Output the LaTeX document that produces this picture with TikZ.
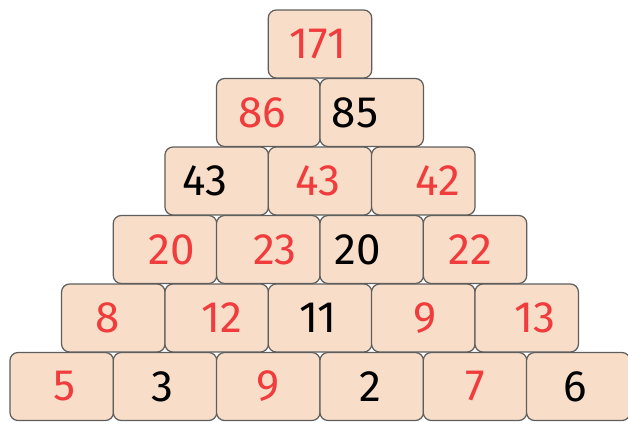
\documentclass[tikz,border=0pt]{standalone}
\usepackage{fontspec}
\setmainfont{Fira Sans}
\usepackage{tikz}
\definecolor{brickfill}{HTML}{F8DEC8}
\definecolor{brickline}{HTML}{5E5E5E}
\definecolor{numred}{HTML}{F03C3C}
\tikzset{
  brick/.style={draw=brickline, line width=0.7pt, fill=brickfill, rounded corners=0.16cm,
    minimum width=2.07cm, minimum height=1.36cm, inner sep=0pt},
  num/.style={inner sep=0pt, font=\fontsize{25}{29}\selectfont},
}
% \brick{name}{x}{y}{colour}{text x}{number}
\newcommand{\brick}[6]{%
  \node[brick] (#1) at (#2,#3) {};
  \node[num, text=#4] (#1n) at (#5,#3) {#6};
}

\begin{document}
\begin{tikzpicture}[x=0.02cm, y=-0.02cm]
    \useasboundingbox (0,0) rectangle (628,422);
    % bottom row
    \brick{fa}{61.7}{386.5}{numred}{65}{5}
    \brick{fb}{165}{386.5}{black}{162}{3}
    \brick{fc}{268.3}{386.5}{numred}{268}{9}
    \brick{fd}{371.7}{386.5}{black}{370}{2}
    \brick{fe}{475}{386.5}{numred}{475}{7}
    \brick{ff}{578.3}{386.5}{black}{575}{6}
    % fifth row
    \brick{ea}{113.3}{318}{numred}{108}{8}
    \brick{eb}{216.7}{318}{numred}{222}{12}
    \brick{ec}{320}{318}{black}{318}{11}
    \brick{ed}{423.3}{318}{numred}{425}{9}
    \brick{ee}{526.7}{318}{numred}{535}{13}
    % fourth row
    \brick{da}{165}{249.5}{numred}{172}{20}
    \brick{db}{268.3}{249.5}{numred}{275}{23}
    \brick{dc}{371.7}{249.5}{black}{358}{20}
    \brick{dd}{475}{249.5}{numred}{470}{22}
    % third row
    \brick{ca}{216.7}{181}{black}{205}{43}
    \brick{cb}{320}{181}{numred}{318}{43}
    \brick{cc}{423.3}{181}{numred}{438}{42}
    % second row
    \brick{ba}{268.3}{112.5}{numred}{262}{86}
    \brick{bb}{371.7}{112.5}{black}{355}{85}
    % top
    \brick{aa}{320}{44}{numred}{318}{171}
\end{tikzpicture}
\end{document}
